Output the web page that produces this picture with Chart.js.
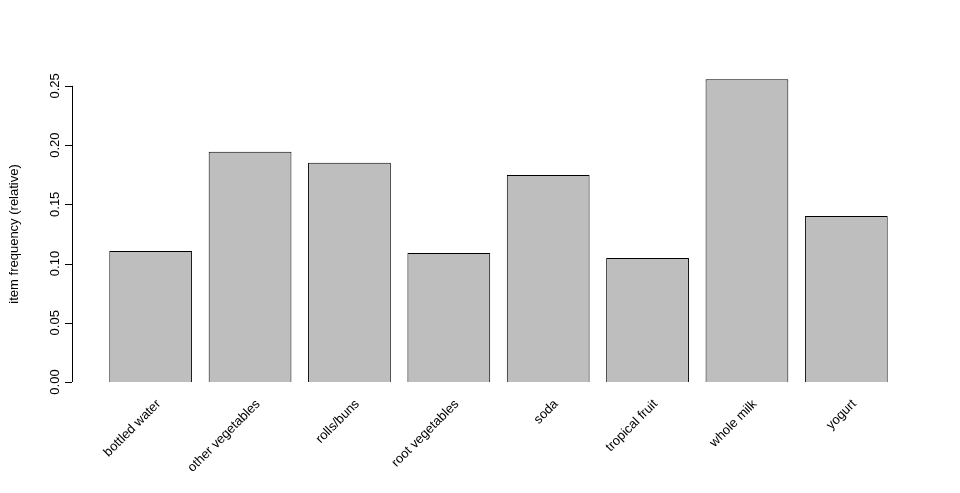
<!DOCTYPE html>
<html>
<head>
<meta charset="utf-8">
<script src="https://cdn.jsdelivr.net/npm/chart.js@4/dist/chart.umd.min.js"></script>
<style>
  html, body { margin: 0; padding: 0; background: #fff; }
  #wrap { width: 960px; height: 493px; }
</style>
</head>
<body>
<div id="wrap"><canvas id="myChart"></canvas></div>
<script>
'use strict';

const items = ['bottled water', 'other vegetables', 'rolls/buns', 'root vegetables',
  'soda', 'tropical fruit', 'whole milk', 'yogurt'];
const frequency = [0.1106, 0.1943, 0.1850, 0.1090, 0.1748, 0.1047, 0.2555, 0.1402];
const yTicks = [0, 0.05, 0.10, 0.15, 0.20, 0.25];
const yTitle = 'item frequency (relative)';

const FONT = '13px "Liberation Sans", Arial, sans-serif';

// R-style axes: y axis detached left of bars, rotated labels
const rAxes = {
  id: 'rAxes',
  afterDraw(chart) {
    const ctx = chart.ctx;
    const y = chart.scales.y;
    const x = chart.scales.x;
    const axisX = 72;
    ctx.save();
    ctx.strokeStyle = '#000';
    ctx.lineWidth = 1;
    ctx.beginPath();
    ctx.moveTo(axisX + 0.5, y.getPixelForValue(yTicks[0]));
    ctx.lineTo(axisX + 0.5, y.getPixelForValue(yTicks[yTicks.length - 1]));
    yTicks.forEach(v => {
      const py = Math.round(y.getPixelForValue(v)) + 0.5;
      ctx.moveTo(axisX, py);
      ctx.lineTo(axisX - 7, py);
    });
    ctx.stroke();
    ctx.fillStyle = '#000';
    ctx.font = FONT;
    yTicks.forEach(v => {
      ctx.save();
      ctx.translate(55, y.getPixelForValue(v));
      ctx.rotate(-Math.PI / 2);
      ctx.textAlign = 'center';
      ctx.textBaseline = 'middle';
      ctx.fillText(v.toFixed(2), 0, 0);
      ctx.restore();
    });
    ctx.save();
    ctx.translate(14, (y.getPixelForValue(0) + y.getPixelForValue(0.25)) / 2);
    ctx.rotate(-Math.PI / 2);
    ctx.textAlign = 'center';
    ctx.textBaseline = 'middle';
    ctx.fillText(yTitle, 0, 0);
    ctx.restore();
    items.forEach((label, i) => {
      ctx.save();
      ctx.translate(x.getPixelForValue(i) + 8, y.getPixelForValue(0) + 20);
      ctx.rotate(-Math.PI / 4);
      ctx.textAlign = 'right';
      ctx.textBaseline = 'middle';
      ctx.fillText(label, 0, 0);
      ctx.restore();
    });
    ctx.restore();
  }
};

new Chart(document.getElementById('myChart'), {
  type: 'bar',
  data: {
    labels: items,
    datasets: [{
      data: frequency,
      backgroundColor: '#bebebe',
      borderColor: '#000',
      borderWidth: 1,
      barPercentage: 0.833,
      categoryPercentage: 1,
    }]
  },
  options: {
    responsive: true,
    maintainAspectRatio: false,
    animation: false,
    layout: { padding: { left: 101, right: 64, top: 74, bottom: 111 } },
    plugins: { legend: { display: false }, tooltip: { enabled: false } },
    scales: {
      x: { display: false },
      y: { display: false, min: 0, max: 0.26 }
    }
  },
  plugins: [rAxes]
});
</script>
</body>
</html>
